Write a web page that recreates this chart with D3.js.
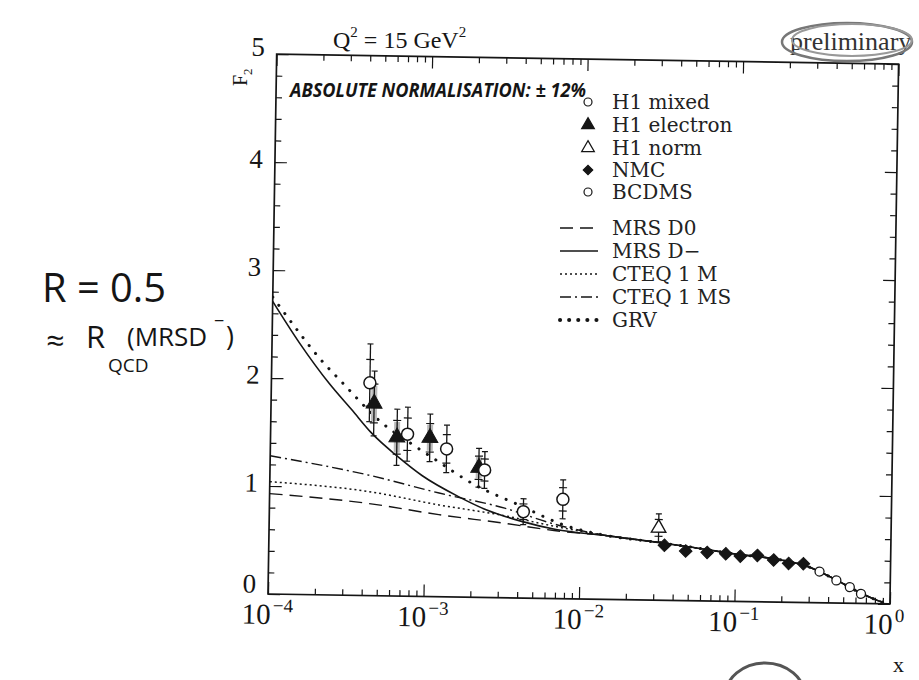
<!DOCTYPE html>
<html>
<head>
<meta charset="utf-8">
<script src="https://cdn.jsdelivr.net/npm/d3@7"></script>
<style>
  body { margin: 0; background: #fff; }
  svg { display: block; }
</style>
</head>
<body>
<div id="chart"></div>
<script>
// ---- values (F2 at Q^2 = 15 GeV^2) ----

// H1 mixed (open circles)
const h1MixedX = [4.3e-4, 7.6e-4, 1.36e-3, 2.4e-3, 4.3e-3, 7.7e-3];
const h1MixedY = [1.97, 1.5, 1.37, 1.18, 0.8, 0.92];
const h1MixedErr = [0.36, 0.25, 0.22, 0.17, 0.12, 0.18];

// H1 electron (filled triangles)
const h1ElecX = [4.6e-4, 6.5e-4, 1.06e-3, 2.2e-3];
const h1ElecY = [1.78, 1.47, 1.47, 1.2];
const h1ElecErr = [0.3, 0.26, 0.22, 0.18];

// H1 norm (open triangle)
const h1NormX = [3.2e-2];
const h1NormY = [0.67];
const h1NormErr = [0.13];

// NMC (filled diamonds)
const nmcX = [0.035, 0.048, 0.066, 0.087, 0.108, 0.139, 0.177, 0.221, 0.275];
const nmcY = [0.51, 0.46, 0.45, 0.44, 0.42, 0.43, 0.39, 0.36, 0.36];

// BCDMS (small open circles)
const bcdmsX = [0.35, 0.45, 0.55, 0.65];
const bcdmsY = [0.29, 0.21, 0.15, 0.09];

// parametrisations, low-x branches
const mrsD0X = [1e-4, 4.5e-4, 1.23e-3, 3.26e-3, 6.8e-3];
const mrsD0Y = [0.93, 0.85, 0.76, 0.69, 0.63];
const mrsDmX = [1e-4, 1.5e-4, 2.35e-4, 3.3e-4, 4.5e-4, 6.5e-4, 9.5e-4, 1.64e-3, 2.5e-3, 4.2e-3, 7e-3];
const mrsDmY = [2.71, 2.33, 1.96, 1.72, 1.5, 1.3, 1.12, 0.93, 0.81, 0.71, 0.64];
const cteqMX = [1e-4, 4.5e-4, 1.23e-3, 3.26e-3, 6.8e-3];
const cteqMY = [1.04, 0.96, 0.85, 0.76, 0.67];
const cteqMSX = [1e-4, 4.5e-4, 1.23e-3, 3.26e-3, 6.8e-3];
const cteqMSY = [1.28, 1.11, 0.96, 0.83, 0.69];
const grvX = [1e-4, 1.5e-4, 2e-4, 2.85e-4, 5.2e-4, 8.1e-4, 1.15e-3, 1.97e-3, 4.2e-3, 7.6e-3];
const grvY = [2.75, 2.42, 2.2, 1.97, 1.6, 1.41, 1.27, 1.06, 0.85, 0.69];

// all curves coincide above x ~ 0.015
const tailX = [0.015, 0.03, 0.05, 0.1, 0.2, 0.3, 0.4, 0.5, 0.6, 0.7, 0.8, 0.9];
const tailY = [0.59, 0.54, 0.5, 0.44, 0.39, 0.33, 0.25, 0.18, 0.12, 0.075, 0.04, 0.015];

const yTicks = [0, 1, 2, 3, 4, 5];
const xDecades = [-4, -3, -2, -1, 0];

const dataLabels = ["H1 mixed", "H1 electron", "H1 norm", "NMC", "BCDMS"];
const curveLabels = ["MRS D0", "MRS D\u2212", "CTEQ 1 M", "CTEQ 1 MS", "GRV"];

// ---- layout ----
const width = 919, height = 680;
const originX = 268, originY = 594;   // bottom-left corner of the frame
const plotW = 622, plotH = 540;
const tilt = 0.92;                    // the scan sits slightly rotated
const ink = "#151515";
const serif = "'Liberation Serif', 'DejaVu Serif', serif";
const legendFont = "'DejaVu Serif', serif";
const hand = "'Open Sans', 'DejaVu Sans', sans-serif";

const svg = d3.select("#chart").append("svg")
    .attr("width", width)
    .attr("height", height);

const x = d3.scaleLog().domain([1e-4, 1]).range([0, plotW]);
const y = d3.scaleLinear().domain([0, 5]).range([plotH, 0]);

const plot = svg.append("g")
    .attr("transform", `translate(${originX} ${originY}) rotate(${tilt}) translate(0 ${-plotH})`);

plot.append("defs").append("clipPath")
    .attr("id", "clip")
    .append("rect")
    .attr("width", plotW)
    .attr("height", plotH);

// frame
plot.append("rect")
    .attr("width", plotW)
    .attr("height", plotH)
    .attr("fill", "none")
    .attr("stroke", ink)
    .attr("stroke-width", 1.7);

// ticks, all pointing inwards
const majorX = xDecades.map(e => Math.pow(10, e));
const minorX = xDecades.slice(0, -1).flatMap(e => d3.range(2, 10).map(m => m * Math.pow(10, e)));
const minorY = d3.range(0, 5.01, 0.2).filter(v => Math.abs(v - Math.round(v)) > 1e-6);

function tickOnly(g, axis) {
    g.call(axis);
    g.select(".domain").remove();
    g.selectAll("text").remove();
    g.selectAll("line").attr("stroke", ink).attr("stroke-width", 1.2);
}

plot.append("g").attr("transform", `translate(0 ${plotH})`)
    .call(tickOnly, d3.axisBottom(x).tickValues(majorX).tickSize(-12));
plot.append("g").attr("transform", `translate(0 ${plotH})`)
    .call(tickOnly, d3.axisBottom(x).tickValues(minorX).tickSize(-6));
plot.append("g")
    .call(tickOnly, d3.axisTop(x).tickValues(majorX).tickSize(-12));
plot.append("g")
    .call(tickOnly, d3.axisTop(x).tickValues(minorX).tickSize(-6));
plot.append("g")
    .call(tickOnly, d3.axisLeft(y).tickValues(yTicks).tickSize(-12));
plot.append("g")
    .call(tickOnly, d3.axisLeft(y).tickValues(minorY).tickSize(-6));
plot.append("g").attr("transform", `translate(${plotW} 0)`)
    .call(tickOnly, d3.axisRight(y).tickValues(yTicks).tickSize(-12));
plot.append("g").attr("transform", `translate(${plotW} 0)`)
    .call(tickOnly, d3.axisRight(y).tickValues(minorY).tickSize(-6));

// tick labels
plot.selectAll(".ylab")
    .data(yTicks)
    .join("text")
    .attr("class", "ylab")
    .attr("x", -12)
    .attr("y", d => y(d) + (d === 5 ? 2 : d === 0 ? -1 : 6))
    .attr("text-anchor", "end")
    .attr("font-family", serif)
    .attr("font-size", 27)
    .attr("fill", ink)
    .text(d => d);

const xlab = plot.selectAll(".xlab")
    .data(xDecades)
    .join("g")
    .attr("class", "xlab")
    .attr("transform", d => `translate(${x(Math.pow(10, d))} ${plotH + 30})`);
xlab.append("text")
    .attr("x", 3)
    .attr("text-anchor", "end")
    .attr("font-family", serif)
    .attr("font-size", 29)
    .attr("fill", ink)
    .text("10");
xlab.append("text")
    .attr("x", 5)
    .attr("y", -12)
    .attr("font-family", serif)
    .attr("font-size", 19)
    .attr("fill", ink)
    .text(d => d === 0 ? "0" : "\u2212" + Math.abs(d));

// ---- curves ----
const line = d3.line()
    .x(d => x(d[0]))
    .y(d => y(d[1]))
    .curve(d3.curveMonotoneX);

const zip = (xs, ys) => xs.map((v, i) => [v, ys[i]]);
const withTail = (xs, ys) => zip(xs, ys).concat(zip(tailX, tailY));

const curves = [
    {pts: withTail(mrsD0X, mrsD0Y), dash: "13,7", w: 1.4, cap: "butt"},
    {pts: withTail(mrsDmX, mrsDmY), dash: null, w: 1.6, cap: "butt"},
    {pts: withTail(cteqMX, cteqMY), dash: "2,3", w: 1.5, cap: "butt"},
    {pts: withTail(cteqMSX, cteqMSY), dash: "11,4,2,4", w: 1.4, cap: "butt"},
    {pts: withTail(grvX, grvY), dash: "0.1,10", w: 3, cap: "round"}
];

const curveG = plot.append("g").attr("clip-path", "url(#clip)");
curveG.selectAll("path")
    .data(curves)
    .join("path")
    .attr("d", d => line(d.pts))
    .attr("fill", "none")
    .attr("stroke", ink)
    .attr("stroke-width", d => d.w)
    .attr("stroke-linecap", d => d.cap)
    .attr("stroke-dasharray", d => d.dash);

// ---- data points ----
const pts = plot.append("g");

function errorBars(xs, ys, errs, shade) {
    const data = zip(xs, ys).map((d, i) => [d[0], d[1], errs[i]]);
    if (shade) {
        pts.selectAll(null)
            .data(data)
            .join("rect")
            .attr("x", d => x(d[0]) - 3)
            .attr("y", d => y(d[1] + d[2] * 0.55))
            .attr("width", 6)
            .attr("height", d => y(d[1] - d[2] * 0.55) - y(d[1] + d[2] * 0.55))
            .attr("fill", "#bbb");
    }
    pts.selectAll(null)
        .data(data)
        .join("line")
        .attr("x1", d => x(d[0]))
        .attr("x2", d => x(d[0]))
        .attr("y1", d => y(d[1] + d[2]))
        .attr("y2", d => y(d[1] - d[2]))
        .attr("stroke", ink)
        .attr("stroke-width", 1.3);
    // caps and inner (statistical) marks
    [1, 0.6, -0.6, -1].forEach(f => {
        pts.selectAll(null)
            .data(data)
            .join("line")
            .attr("x1", d => x(d[0]) - (Math.abs(f) === 1 ? 3 : 4))
            .attr("x2", d => x(d[0]) + (Math.abs(f) === 1 ? 3 : 4))
            .attr("y1", d => y(d[1] + f * d[2]))
            .attr("y2", d => y(d[1] + f * d[2]))
            .attr("stroke", ink)
            .attr("stroke-width", 1.2);
    });
}

errorBars(h1ElecX, h1ElecY, h1ElecErr, true);
errorBars(h1MixedX, h1MixedY, h1MixedErr, false);
errorBars(h1NormX, h1NormY, h1NormErr, false);

const triangle = d3.symbol(d3.symbolTriangle, 110)();
const smallTri = d3.symbol(d3.symbolTriangle, 90)();
const diamond = d3.symbol(d3.symbolSquare, 80)();

function markers(xs, ys, shape, fill, rotate, sw) {
    pts.selectAll(null)
        .data(zip(xs, ys))
        .join("path")
        .attr("d", shape)
        .attr("transform", d => `translate(${x(d[0])} ${y(d[1])}) rotate(${rotate})`)
        .attr("fill", fill)
        .attr("stroke", ink)
        .attr("stroke-width", sw);
}

markers(h1ElecX, h1ElecY, triangle, ink, 0, 1);
markers(h1NormX, h1NormY, smallTri, "#fff", 0, 1.4);
markers(nmcX, nmcY, diamond, ink, 45, 1);

pts.selectAll(null)
    .data(zip(h1MixedX, h1MixedY))
    .join("circle")
    .attr("cx", d => x(d[0]))
    .attr("cy", d => y(d[1]))
    .attr("r", 6)
    .attr("fill", "#fff")
    .attr("stroke", ink)
    .attr("stroke-width", 1.5);

pts.selectAll(null)
    .data(zip(bcdmsX, bcdmsY))
    .join("circle")
    .attr("cx", d => x(d[0]))
    .attr("cy", d => y(d[1]))
    .attr("r", 4.5)
    .attr("fill", "#fff")
    .attr("stroke", ink)
    .attr("stroke-width", 1.3);

// ---- legend (page coordinates) ----
const legend = svg.append("g").attr("font-family", legendFont).attr("font-size", 20).attr("fill", "#222");
const legSymX = 588, legTextX = 612;
const legRowsY = [102, 125, 148, 170, 192];
const legLinesY = [228, 251, 274, 297, 320];

legend.selectAll(".lt")
    .data(dataLabels)
    .join("text")
    .attr("class", "lt")
    .attr("x", legTextX)
    .attr("y", (d, i) => legRowsY[i] + 7)
    .text(d => d);

const legendShapes = [
    {shape: d3.symbol(d3.symbolCircle, 50)(), fill: "#fff", rot: 0},
    {shape: d3.symbol(d3.symbolTriangle, 70)(), fill: ink, rot: 0},
    {shape: d3.symbol(d3.symbolTriangle, 70)(), fill: "#fff", rot: 0},
    {shape: d3.symbol(d3.symbolSquare, 45)(), fill: ink, rot: 45},
    {shape: d3.symbol(d3.symbolCircle, 50)(), fill: "#fff", rot: 0}
];
legend.selectAll(".ls")
    .data(legendShapes)
    .join("path")
    .attr("class", "ls")
    .attr("d", d => d.shape)
    .attr("transform", (d, i) => `translate(${legSymX} ${legRowsY[i]}) rotate(${d.rot})`)
    .attr("fill", d => d.fill)
    .attr("stroke", ink)
    .attr("stroke-width", 1.2);

legend.selectAll(".cl")
    .data(curveLabels)
    .join("text")
    .attr("class", "cl")
    .attr("x", legTextX)
    .attr("y", (d, i) => legLinesY[i] + 7)
    .text(d => d);

legend.selectAll(".cs")
    .data(curves)
    .join("line")
    .attr("class", "cs")
    .attr("x1", 560)
    .attr("x2", 598)
    .attr("y1", (d, i) => legLinesY[i])
    .attr("y2", (d, i) => legLinesY[i])
    .attr("stroke", ink)
    .attr("stroke-width", (d, i) => i === 4 ? 4 : d.w)
    .attr("stroke-linecap", d => d.cap)
    .attr("stroke-dasharray", (d, i) => i === 4 ? "0.1,9" : d.dash);

// ---- titles and axis names ----
svg.append("text")
    .attr("transform", "translate(247 86) rotate(-90)")
    .attr("font-family", serif)
    .attr("font-size", 20)
    .attr("fill", ink)
    .html("F<tspan font-size='13' dy='5'>2</tspan>");

svg.append("text")
    .attr("x", 333)
    .attr("y", 48)
    .attr("font-family", serif)
    .attr("font-size", 24)
    .attr("fill", ink)
    .html("Q<tspan font-size='15' dy='-11'>2</tspan><tspan dy='11'> = 15 GeV</tspan><tspan font-size='15' dy='-11'>2</tspan>");

svg.append("text")
    .attr("x", 893)
    .attr("y", 672)
    .attr("font-family", serif)
    .attr("font-size", 22)
    .attr("fill", ink)
    .text("x");

// "preliminary" with the hand drawn oval round it
svg.append("text")
    .attr("x", 790)
    .attr("y", 50)
    .attr("font-family", serif)
    .attr("font-size", 26)
    .attr("fill", "#333")
    .text("preliminary");

svg.append("ellipse")
    .attr("cx", 847).attr("cy", 42).attr("rx", 65).attr("ry", 19)
    .attr("fill", "none").attr("stroke", "#777").attr("stroke-width", 2.5);
svg.append("ellipse")
    .attr("cx", 852).attr("cy", 40).attr("rx", 60).attr("ry", 16)
    .attr("fill", "none").attr("stroke", "#999").attr("stroke-width", 2);

// hand written notes
svg.append("text")
    .attr("x", 290)
    .attr("y", 97)
    .attr("font-family", hand)
    .attr("font-weight", "bold")
    .attr("font-style", "italic")
    .attr("font-size", 20)
    .attr("textLength", 296)
    .attr("lengthAdjust", "spacingAndGlyphs")
    .attr("fill", ink)
    .text("ABSOLUTE NORMALISATION: \u00b1 12%");

svg.append("text")
    .attr("x", 42)
    .attr("y", 302)
    .attr("font-family", hand)
    .attr("font-size", 40)
    .attr("textLength", 124)
    .attr("lengthAdjust", "spacingAndGlyphs")
    .attr("fill", ink)
    .text("R = 0.5");

const approx = svg.append("g")
    .attr("font-family", hand)
    .attr("fill", ink);
approx.append("text")
    .attr("x", 46)
    .attr("y", 352)
    .attr("font-size", 32)
    .text("\u2248");
approx.append("text")
    .attr("x", 86)
    .attr("y", 348)
    .attr("font-size", 31)
    .text("R");
approx.append("text")
    .attr("x", 108)
    .attr("y", 372)
    .attr("font-size", 19)
    .text("QCD");
approx.append("text")
    .attr("x", 127)
    .attr("y", 346)
    .attr("font-size", 26)
    .text("(MRSD");
approx.append("text")
    .attr("x", 214)
    .attr("y", 327)
    .attr("font-size", 18)
    .text("\u2212");
approx.append("text")
    .attr("x", 226)
    .attr("y", 346)
    .attr("font-size", 27)
    .text(")");

// piece of another oval cut off at the page bottom
svg.append("ellipse")
    .attr("cx", 765).attr("cy", 697).attr("rx", 40).attr("ry", 34)
    .attr("fill", "none").attr("stroke", "#555").attr("stroke-width", 3);
</script>
</body>
</html>
